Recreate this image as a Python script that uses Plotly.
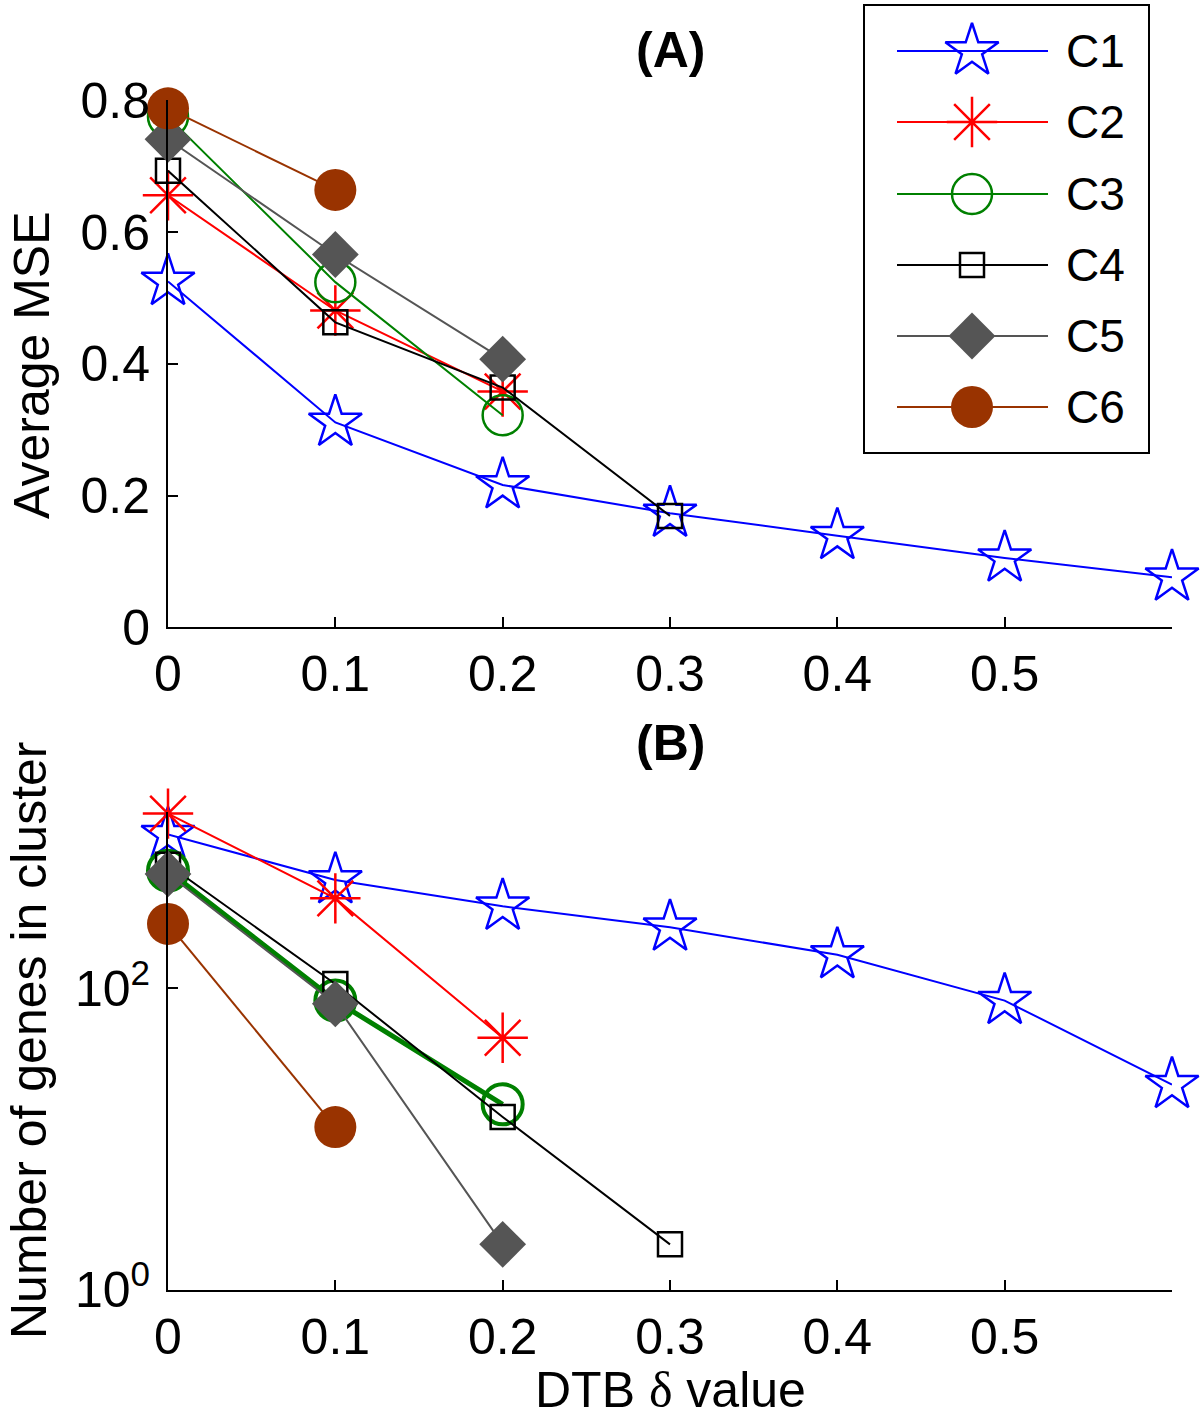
import numpy as np
import plotly.graph_objects as go

# DTB delta values
delta = [0.0, 0.1, 0.2, 0.3, 0.4, 0.5, 0.6]
names = ["C1", "C2", "C3", "C4", "C5", "C6"]

# (A) average MSE per cluster
mse_c1 = [0.525, 0.311, 0.216, 0.173, 0.139, 0.105, 0.076]
mse_c2 = [0.656, 0.481, 0.358]
mse_c3 = [0.775, 0.524, 0.322]
mse_c4 = [0.693, 0.463, 0.364, 0.169]
mse_c5 = [0.741, 0.566, 0.407]
mse_c6 = [0.788, 0.664]

# (B) number of genes in cluster
genes_c1 = [1050, 525, 351, 255, 167, 83, 23]
genes_c2 = [1446, 396, 47]
genes_c3 = [605, 83, 17]
genes_c4 = [663, 107, 14, 2]
genes_c5 = [575, 79, 2]
genes_c6 = [268, 12]

x_ticks = [0, 0.1, 0.2, 0.3, 0.4, 0.5]
x_ticktext = ["0", "0.1", "0.2", "0.3", "0.4", "0.5"]
mse_ticks = [0, 0.2, 0.4, 0.6, 0.8]
mse_ticktext = ["0", "0.2", "0.4", "0.6", "0.8"]
genes_ticks = [1, 100]
genes_ticktext = ["10<sup>0</sup>", "10<sup>2</sup>"]

mse_data = [mse_c1, mse_c2, mse_c3, mse_c4, mse_c5, mse_c6]
genes_data = [genes_c1, genes_c2, genes_c3, genes_c4, genes_c5, genes_c6]

# marker / line styles per cluster
styles = [
    dict(lc="#0000ff", lw=2, sym="star-open", size=40, mc="#0000ff", mlw=2.5),
    dict(lc="#ff0000", lw=2, sym="asterisk-open", size=42, mc="#ff0000", mlw=2.5),
    dict(lc="#008000", lw=2, sym="circle-open", size=40, mc="#008000", mlw=2.5),
    dict(lc="#000000", lw=2, sym="square-open", size=24, mc="#000000", mlw=2.5),
    dict(lc="#555555", lw=2, sym="diamond", size=36, mc="#555555", mlw=0),
    dict(lc="#993300", lw=2, sym="circle", size=42, mc="#993300", mlw=0),
]

W, H = 1200, 1427
FONT = "Liberation Sans, Arial, Helvetica, sans-serif"
FS = 50
FS_LEG = 46
L, R = 168, 28


def ypaper(px):
    return 1 - px / H


def xpaper(px):
    return (px - L) / (W - L - R)


fig = go.Figure()

for i, st in enumerate(styles):
    y = mse_data[i]
    fig.add_trace(go.Scatter(
        x=delta[:len(y)], y=y, mode="lines+markers", name=names[i], showlegend=False,
        line=dict(color=st["lc"], width=st["lw"]),
        marker=dict(symbol=st["sym"], size=st["size"], color=st["mc"],
                    line=dict(color=st["mc"], width=st["mlw"])),
        cliponaxis=False, xaxis="x", yaxis="y"))

for i, st in enumerate(styles):
    y = genes_data[i]
    lw = 5 if names[i] == "C3" else st["lw"]
    mlw = 4 if names[i] == "C3" else st["mlw"]
    fig.add_trace(go.Scatter(
        x=delta[:len(y)], y=y, mode="lines+markers", name=names[i], showlegend=False,
        line=dict(color=st["lc"], width=lw),
        marker=dict(symbol=st["sym"], size=st["size"], color=st["mc"],
                    line=dict(color=st["mc"], width=mlw)),
        cliponaxis=False, xaxis="x2", yaxis="y2"))

# hand-drawn legend box on its own axes (pixel units)
leg_rows = [51, 122, 194, 265, 336, 407]
for i, st in enumerate(styles):
    fig.add_trace(go.Scatter(
        x=[897, 1048], y=[leg_rows[i]] * 2, mode="lines", showlegend=False,
        line=dict(color=st["lc"], width=st["lw"]), xaxis="x3", yaxis="y3", hoverinfo="skip"))
    fig.add_trace(go.Scatter(
        x=[972], y=[leg_rows[i]], mode="markers", showlegend=False,
        marker=dict(symbol=st["sym"], size=st["size"], color=st["mc"],
                    line=dict(color=st["mc"], width=st["mlw"])),
        xaxis="x3", yaxis="y3", hoverinfo="skip", cliponaxis=False))
    fig.add_annotation(x=1064, y=leg_rows[i], xref="x3", yref="y3", text=names[i],
                       showarrow=False, xanchor="left", yanchor="middle",
                       font=dict(family=FONT, size=FS_LEG, color="black"))

axis_common = dict(showline=True, linecolor="black", linewidth=2, ticks="inside",
                   ticklen=10, tickwidth=2, tickcolor="black", showgrid=False, zeroline=False,
                   tickfont=dict(family=FONT, size=FS, color="black"), automargin=False)

top_bottom_px, bot_bottom_px = 627.2, 1289.7
mse_top = 0.8
genes_top = 3.17
top_top_px = top_bottom_px - mse_top * 658.5
bot_top_px = bot_bottom_px - genes_top * 150.65

fig.update_layout(
    width=W, height=H,
    margin=dict(l=L, r=R, t=0, b=0),
    paper_bgcolor="white", plot_bgcolor="rgba(0,0,0,0)",
    xaxis=dict(axis_common, domain=[0, 1], range=[0, 0.6], tickvals=x_ticks, ticktext=x_ticktext,
               anchor="y", ticklabelstandoff=2),
    yaxis=dict(axis_common, domain=[ypaper(top_bottom_px), ypaper(top_top_px)], range=[0, mse_top],
               tickvals=mse_ticks, ticktext=mse_ticktext, anchor="x", ticklabelstandoff=6),
    xaxis2=dict(axis_common, domain=[0, 1], range=[0, 0.6], tickvals=x_ticks, ticktext=x_ticktext,
                anchor="y2", ticklabelstandoff=2),
    yaxis2=dict(axis_common, type="log", domain=[ypaper(bot_bottom_px), ypaper(bot_top_px)],
                range=[0, genes_top], tickvals=genes_ticks, ticktext=genes_ticktext, anchor="x2",
                ticklabelstandoff=6),
    xaxis3=dict(domain=[xpaper(865), xpaper(1148)], range=[865, 1148], showline=True, mirror=True,
                linecolor="black", linewidth=2, showticklabels=False, ticks="", showgrid=False,
                zeroline=False, anchor="y3", fixedrange=True),
    yaxis3=dict(domain=[ypaper(452), ypaper(6)], range=[452, 6], showline=True, mirror=True,
                linecolor="black", linewidth=2, showticklabels=False, ticks="", showgrid=False,
                zeroline=False, anchor="x3", fixedrange=True),
)

# titles and axis labels
texts = [
    dict(text="<b>(A)</b>", x=xpaper(670), y=ypaper(50), angle=0),
    dict(text="<b>(B)</b>", x=xpaper(670), y=ypaper(743), angle=0),
    dict(text="Average MSE", x=xpaper(32), y=ypaper(365), angle=-90),
    dict(text="Number of genes in cluster", x=xpaper(29), y=ypaper(1040), angle=-90),
    dict(text="DTB <span style=\"font-family:'Liberation Serif', serif\">δ</span> value",
         x=xpaper(670), y=ypaper(1390), angle=0),
]
for t in texts:
    fig.add_annotation(x=t["x"], y=t["y"], xref="paper", yref="paper", text=t["text"],
                       showarrow=False, xanchor="center", yanchor="middle", textangle=t["angle"],
                       font=dict(family=FONT, size=FS, color="black"))

fig.write_html("out.html", config={"displayModeBar": False},
               post_script="document.body.style.margin='0';")
